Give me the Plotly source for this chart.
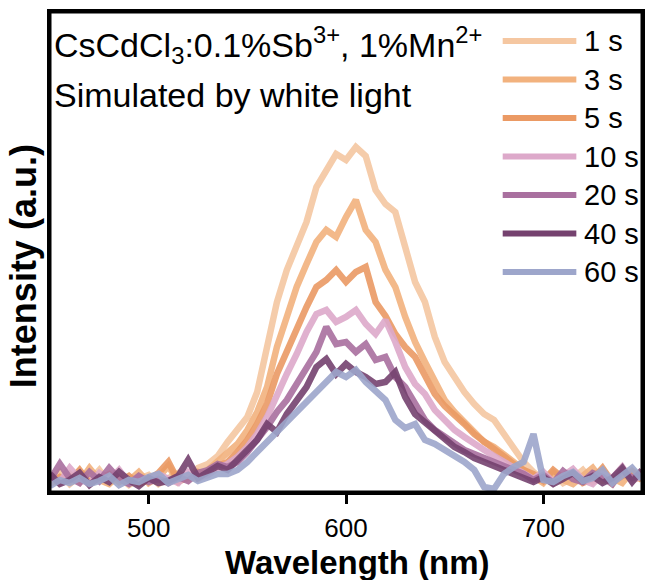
import plotly.graph_objects as go

wavelength = list(range(450, 751, 5))

labels = ["1 s", "3 s", "5 s", "10 s", "20 s", "40 s", "60 s"]
colors = ["#F5C7A1", "#F2B27E", "#EB9A64", "#DDA9CA", "#A9709F", "#75426F", "#9DA6CB"]

s1 = [10, 20, 8, 16, 11, 22, 9, 15, 7, 13, 17, 8, 14, 19, 12, 24, 28, 36,
      50, 62, 75, 100, 145, 190, 222, 245, 270, 305, 322, 338, 332,
      345, 336, 302, 288, 280, 245, 210, 190, 155, 130, 115, 100, 88, 78, 72, 58, 45, 30,
      20, 12, 18, 9, 14, 22, 10, 16, 8, 19, 12, 15]
s3 = [14, 9, 18, 10, 24, 12, 8, 17, 11, 20, 9, 15, 26, 10, 16, 13, 22, 30,
      38, 48, 62, 80, 105, 145, 175, 205, 228, 250, 262, 255, 275,
      292, 262, 250, 222, 205, 175, 150, 130, 112, 92, 80, 70, 60, 50, 45, 38, 30, 22,
      15, 9, 20, 12, 8, 17, 24, 11, 14, 9, 21, 13]
s5 = [8, 15, 11, 22, 9, 14, 18, 10, 16, 8, 12, 19, 30, 11, 14, 20, 18, 26,
      30, 40, 52, 68, 88, 118, 140, 165, 185, 205, 212, 222, 210,
      220, 225, 190, 176, 158, 145, 135, 115, 98, 86, 78, 68, 58, 50, 42, 35, 28, 22,
      18, 11, 22, 14, 19, 9, 13, 24, 10, 16, 20, 12]
s10 = [16, 10, 24, 13, 8, 19, 12, 22, 9, 15, 11, 18, 13, 9, 20, 14, 17, 24,
       28, 35, 45, 58, 75, 98, 118, 138, 160, 178, 182, 170, 175,
       182, 168, 158, 172, 150, 125, 108, 98, 82, 72, 62, 55, 48, 42, 36, 30, 24, 18,
       13, 20, 10, 16, 23, 12, 8, 18, 14, 25, 11, 17]
s20 = [12, 28, 14, 9, 20, 11, 24, 13, 8, 16, 10, 13, 9, 15, 11, 19, 22, 28,
       25, 30, 40, 52, 65, 80, 92, 108, 125, 140, 165, 148, 150,
       140, 148, 132, 135, 115, 105, 88, 72, 62, 55, 48, 42, 38, 34, 30, 26, 22, 18,
       12, 17, 9, 21, 13, 10, 19, 15, 8, 22, 14, 18]
s40 = [18, 8, 12, 19, 7, 15, 10, 20, 12, 6, 14, 9, 11, 16, 32, 14, 20, 26,
       22, 32, 42, 52, 68, 60, 78, 92, 105, 125, 133, 118, 128,
       120, 115, 108, 110, 120, 95, 78, 70, 60, 52, 45, 40, 34, 30, 26, 22, 18, 15,
       10, 15, 8, 13, 19, 11, 16, 9, 14, 24, 10, 22]
s60 = [6, 12, 9, 14, 8, 11, 16, 7, 12, 10, 15, 18, 9, 13, 17, 11, 14, 18,
       18, 22, 30, 40, 50, 60, 70, 78, 88, 100, 108, 120, 115,
       122, 110, 100, 92, 72, 64, 68, 52, 48, 42, 35, 30, 22, 5, 3, 18, 25, 30,
       58, 12, 10, 16, 20, 11, 14, 22, 9, 17, 24, 13]

series = [s1, s3, s5, s10, s20, s40, s60]

FONT = "Liberation Sans, Arial, sans-serif"

fig = go.Figure()
for lab, col, ys in zip(labels, colors, series):
    fig.add_trace(go.Scatter(x=wavelength, y=ys, mode="lines", name=lab,
                             line=dict(color=col, width=6.5), opacity=0.9,
                             showlegend=False))

# plot area in pixels: left 50, right 645, top 12, bottom 492
L, R, T, B = 50, 645, 12, 492
def px(xp):
    return (xp - L) / (R - L)
def py(yp):
    return (B - yp) / (B - T)

shapes = [dict(type="rect", xref="paper", yref="paper", x0=0, x1=1, y0=0, y1=1,
               line=dict(color="black", width=3), layer="above")]
annotations = []
row0, step = 41, 38.5
for i, (lab, col) in enumerate(zip(labels, colors)):
    yc = py(row0 + i * step)
    shapes.append(dict(type="line", xref="paper", yref="paper",
                       x0=px(505), x1=px(579), y0=yc, y1=yc,
                       line=dict(color=col, width=6)))
    annotations.append(dict(text=lab, xref="paper", yref="paper",
                            x=px(585), y=yc, xanchor="left", yanchor="middle",
                            showarrow=False, font=dict(size=29, color="black", family=FONT)))

annotations.append(dict(text="CsCdCl<sub>3</sub>:0.1%Sb<sup>3+</sup>, 1%Mn<sup>2+</sup>",
                        xref="paper", yref="paper", x=px(52), y=py(45),
                        xanchor="left", yanchor="middle", showarrow=False,
                        font=dict(size=34, color="black", family=FONT)))
annotations.append(dict(text="Simulated by white light",
                        xref="paper", yref="paper", x=px(52), y=py(95),
                        xanchor="left", yanchor="middle", showarrow=False,
                        font=dict(size=34, color="black", family=FONT)))
# axis titles
annotations.append(dict(text="<b>Wavelength (nm)</b>", xref="paper", yref="paper",
                        x=px(359), y=py(562), xanchor="center", yanchor="middle",
                        showarrow=False, font=dict(size=33, color="black", family=FONT)))
annotations.append(dict(text="<b>Intensity (a.u.)</b>", xref="paper", yref="paper",
                        x=px(23), y=py(266), xanchor="center", yanchor="middle",
                        textangle=-90, showarrow=False,
                        font=dict(size=36, color="black", family=FONT)))

fig.update_layout(
    width=650, height=580,
    margin=dict(l=L, r=650 - R, t=T, b=580 - B),
    plot_bgcolor="white", paper_bgcolor="white",
    font=dict(family=FONT, color="black"),
    shapes=shapes, annotations=annotations,
    xaxis=dict(range=[450, 750], tickvals=[500, 600, 700], ticks="outside",
               ticklen=9, tickwidth=3, tickcolor="black", ticklabelstandoff=2,
               showline=True, linewidth=3, linecolor="black", mirror=True,
               showgrid=False, zeroline=False,
               tickfont=dict(size=26, family=FONT)),
    yaxis=dict(range=[0, 480], showticklabels=False, ticks="",
               showline=True, linewidth=3, linecolor="black", mirror=True,
               showgrid=False, zeroline=False),
)

fig.write_html("out.html", config={"displayModeBar": False},
               post_script="document.body.style.margin='0';document.body.style.overflow='hidden';"
                           "document.documentElement.style.overflow='hidden';")
